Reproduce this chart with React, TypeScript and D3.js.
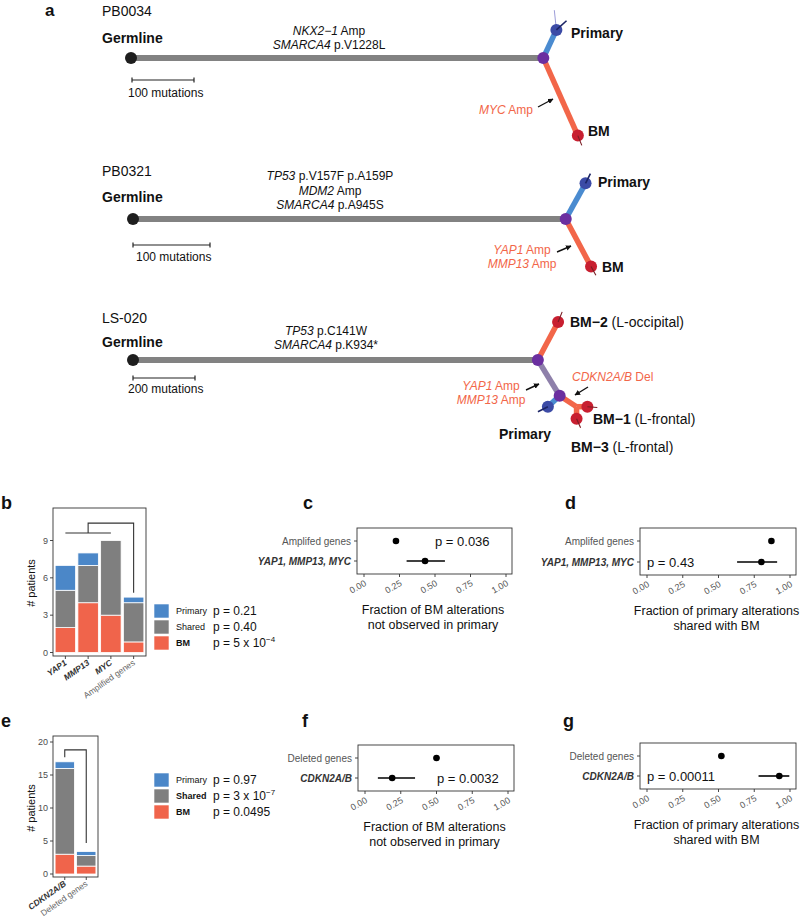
import React from "react";
import * as d3 from "d3";

const FONT = "'Liberation Sans', Arial, Helvetica, sans-serif";

// ---------------- Panel a data ----------------
type Br = { id: string; parent: string; len: number; angle: number; kind: string };

const treeIds = ["PB0034", "PB0321", "LS-020"];
const scaleBarMuts = [100, 100, 200];

const pb0034Branches: Br[] = [
  { id: "mrca", parent: "germline", len: 665, angle: 0, kind: "trunk" },
  { id: "primary", parent: "mrca", len: 50, angle: -65, kind: "primary" },
  { id: "bm", parent: "mrca", len: 137, angle: 66, kind: "bm" },
  { id: "pFaint", parent: "primary", len: 32, angle: -96, kind: "faint" },
  { id: "pTip", parent: "primary", len: 22, angle: -42, kind: "tipP" },
  { id: "bTip", parent: "bm", len: 17, angle: 68, kind: "tipB" },
];
const pb0321Branches: Br[] = [
  { id: "mrca", parent: "germline", len: 562, angle: 0, kind: "trunk" },
  { id: "primary", parent: "mrca", len: 53, angle: -61, kind: "primary" },
  { id: "bm", parent: "mrca", len: 70, angle: 62, kind: "bm" },
  { id: "pTip", parent: "primary", len: 14, angle: -63, kind: "tipP" },
  { id: "bTip", parent: "bm", len: 13, angle: 61, kind: "tipB" },
];
const ls020Branches: Br[] = [
  { id: "mrca", parent: "germline", len: 1306, angle: 0, kind: "trunk" },
  { id: "bm2", parent: "mrca", len: 139, angle: -62, kind: "bm" },
  { id: "mrca2", parent: "mrca", len: 135, angle: 58.6, kind: "shared" },
  { id: "primary", parent: "mrca2", len: 52, angle: 137, kind: "primary" },
  { id: "bend", parent: "mrca2", len: 65, angle: 33, kind: "bend" },
  { id: "bm1", parent: "bend", len: 35, angle: 0, kind: "bm" },
  { id: "bm3", parent: "bend", len: 39, angle: 90, kind: "bm" },
  { id: "bm2Tip", parent: "bm2", len: 35, angle: -68, kind: "tipB" },
  { id: "bm1Tip", parent: "bm1", len: 32, angle: 5, kind: "tipB" },
  { id: "bm3Tip", parent: "bm3", len: 32, angle: 66, kind: "tipB" },
  { id: "pTip", parent: "primary", len: 36, angle: 153, kind: "tipP" },
];
const treeBranches = [pb0034Branches, pb0321Branches, ls020Branches];

const pb0034Drivers = [["NKX2−1", " Amp"], ["SMARCA4", " p.V1228L"]];
const pb0321Drivers = [["TP53", " p.V157F p.A159P"], ["MDM2", " Amp"], ["SMARCA4", " p.A945S"]];
const ls020Drivers = [["TP53", " p.C141W"], ["SMARCA4", " p.K934*"]];
const treeDrivers = [pb0034Drivers, pb0321Drivers, ls020Drivers];

const pb0034Samples = [["Primary", ""], ["BM", ""]];
const pb0321Samples = [["Primary", ""], ["BM", ""]];
const ls020Samples = [["BM−2", " (L-occipital)"], ["BM−1", " (L-frontal)"], ["BM−3", " (L-frontal)"], ["Primary", ""]];
const treeSamples = [pb0034Samples, pb0321Samples, ls020Samples];

const pb0034Annots = [[["MYC", " Amp"]]];
const pb0321Annots = [[["YAP1", " Amp"], ["MMP13", " Amp"]]];
const ls020Annots = [[["YAP1", " Amp"], ["MMP13", " Amp"]], [["CDKN2A/B", " Del"]]];
const treeAnnots = [pb0034Annots, pb0321Annots, ls020Annots];

// ---------------- Panels b / e data ----------------
const ampCats = ["YAP1", "MMP13", "MYC", "Amplified genes"];
const ampBM = [2, 4, 3, 0.85];
const ampShared = [3, 3, 6, 3.15];
const ampPrimary = [2, 1, 0, 0.45];
const ampYTicks = [0, 3, 6, 9];
const ampPvals = ["p = 0.21", "p = 0.40", "p = 5 x 10|−4"];
const ampBoldLegend = [false, false, true];

const delCats = ["CDKN2A/B", "Deleted genes"];
const delBM = [3, 1.2];
const delShared = [13, 1.6];
const delPrimary = [1, 0.6];
const delYTicks = [0, 5, 10, 15, 20];
const delPvals = ["p = 0.97", "p = 3 x 10|−7", "p = 0.0495"];
const delBoldLegend = [false, true, true];

const legendNames = ["Primary", "Shared", "BM"];

// ---------------- Panels c, d, f, g data ----------------
const ampRows = ["Amplifed genes", "YAP1, MMP13, MYC"];
const cEst = [0.225, 0.43];
const cLo = [0.215, 0.3];
const cHi = [0.235, 0.57];
const dEst = [0.87, 0.8];
const dLo = [0.86, 0.63];
const dHi = [0.88, 0.91];
const delRows = ["Deleted genes", "CDKN2A/B"];
const fEst = [0.5, 0.19];
const fLo = [0.48, 0.09];
const fHi = [0.52, 0.35];
const gEst = [0.52, 0.925];
const gLo = [0.5, 0.78];
const gHi = [0.54, 0.995];
const fracTicks = [0, 0.25, 0.5, 0.75, 1];

// ---------------- colours ----------------
const C = {
  trunk: "#828282",
  primaryBr: "#4a8bd0",
  bmBr: "#f26649",
  sharedBr: "#8e80aa",
  purple: "#6b2fa0",
  blueNode: "#3c4ba6",
  redNode: "#c81f30",
  germ: "#1e1e1e",
  barPrimary: "#4b87c8",
  barShared: "#7f7f7f",
  barBM: "#f0644b",
  annot: "#f26649",
};

// ---------------- Tree component ----------------
const treeLayout = [
  {
    origin: [131, 58], barPx: 62, title: [102, 16], germ: [102, 43],
    drv: { x: 329, y: 34.5, dy: 14 }, bar: [132, 80], barText: [128, 97],
    samples: [[571, 38], [588, 136]],
    annots: [{ x: 533, y: 114, anchor: "end" }],
    arrows: [[538, 107, 553, 99]],
  },
  {
    origin: [133, 219], barPx: 77, title: [102, 176], germ: [102, 202],
    drv: { x: 330, y: 180, dy: 14.5 }, bar: [133, 245], barText: [136, 261],
    samples: [[598, 187], [602, 272]],
    annots: [{ x: 522, y: 254, anchor: "middle" }],
    arrows: [[557, 252, 571, 246]],
  },
  {
    origin: [133, 360], barPx: 62, title: [102, 323], germ: [102, 347],
    drv: { x: 326, y: 335, dy: 14 }, bar: [133, 378], barText: [128, 393],
    samples: [[570, 327], [593, 424], [571, 452], [499, 439]],
    annots: [{ x: 491, y: 390, anchor: "middle" }, { x: 572, y: 381, anchor: "start" }],
    arrows: [[526, 390, 539, 384], [588, 387, 575, 395]],
  },
];

function Tree({ idx }: { idx: number }) {
  const L = treeLayout[idx];
  const branches = treeBranches[idx];
  const k = d3.scaleLinear().domain([0, scaleBarMuts[idx]]).range([0, L.barPx]);
  const pos: Record<string, [number, number]> = { germline: [L.origin[0], L.origin[1]] };
  branches.forEach((b) => {
    const p = pos[b.parent];
    const a = (b.angle * Math.PI) / 180;
    pos[b.id] = [p[0] + k(b.len) * Math.cos(a), p[1] + k(b.len) * Math.sin(a)];
  });
  const brStyle = (kind: string) => {
    switch (kind) {
      case "trunk": return { stroke: C.trunk, w: 6 };
      case "primary": return { stroke: C.primaryBr, w: 5.5 };
      case "bm": case "bend": return { stroke: C.bmBr, w: 5.5 };
      case "shared": return { stroke: C.sharedBr, w: 5.5 };
      case "faint": return { stroke: "#9c9cd8", w: 1 };
      case "tipP": return { stroke: "#1c2566", w: 1.6 };
      case "tipB": return { stroke: "#7a1d24", w: 1.1 };
    }
    return { stroke: "#000", w: 1 };
  };
  const isTip = (kind: string) => kind === "tipP" || kind === "tipB";
  const nodeFill = (kind: string) =>
    kind === "trunk" || kind === "shared" ? C.purple : kind === "primary" ? C.blueNode : kind === "bm" ? C.redNode : null;
  const drawBranch = (b: Br) => {
    const s = brStyle(b.kind);
    const p = pos[b.parent], q = pos[b.id];
    return <line key={b.id} x1={p[0]} y1={p[1]} x2={q[0]} y2={q[1]} stroke={s.stroke} strokeWidth={s.w} />;
  };
  const samples = treeSamples[idx];
  const annots = treeAnnots[idx];
  return (
    <g fontFamily={FONT}>
      <text x={L.title[0]} y={L.title[1]} fontSize={14} fill="#111">{treeIds[idx]}</text>
      <text x={L.germ[0]} y={L.germ[1]} fontSize={14} fontWeight="bold" fill="#111">Germline</text>
      {treeDrivers[idx].map((d, i) => (
        <text key={i} x={L.drv.x} y={L.drv.y + i * L.drv.dy} fontSize={12} textAnchor="middle" fill="#111">
          <tspan fontStyle="italic">{d[0]}</tspan>{d[1]}
        </text>
      ))}
      <g stroke="#222" strokeWidth={1.2}>
        <line x1={L.bar[0]} x2={L.bar[0] + L.barPx} y1={L.bar[1]} y2={L.bar[1]} />
        <line x1={L.bar[0]} x2={L.bar[0]} y1={L.bar[1] - 2.5} y2={L.bar[1] + 2.5} />
        <line x1={L.bar[0] + L.barPx} x2={L.bar[0] + L.barPx} y1={L.bar[1] - 2.5} y2={L.bar[1] + 2.5} />
      </g>
      <text x={L.barText[0]} y={L.barText[1]} fontSize={12} fill="#111">{scaleBarMuts[idx]} mutations</text>
      {branches.filter((b) => !isTip(b.kind)).map(drawBranch)}
      <circle cx={pos.germline[0]} cy={pos.germline[1]} r={6} fill={C.germ} />
      {branches.map((b) => {
        const f = nodeFill(b.kind);
        return f ? <circle key={"n" + b.id} cx={pos[b.id][0]} cy={pos[b.id][1]} r={6} fill={f} /> : null;
      })}
      {branches.filter((b) => isTip(b.kind)).map(drawBranch)}
      {samples.map((s, i) => (
        <text key={"s" + i} x={L.samples[i][0]} y={L.samples[i][1]} fontSize={14} fill="#111">
          <tspan fontWeight="bold">{s[0]}</tspan>{s[1]}
        </text>
      ))}
      {annots.map((lines, i) => (
        <g key={"a" + i}>
          {lines.map((ln, j) => (
            <text key={j} x={L.annots[i].x} y={L.annots[i].y + j * 13.5} fontSize={12} fill={C.annot}
              textAnchor={L.annots[i].anchor as any}>
              <tspan fontStyle="italic">{ln[0]}</tspan>{ln[1]}
            </text>
          ))}
        </g>
      ))}
      {L.arrows.map((a, i) => (
        <line key={"ar" + i} x1={a[0]} y1={a[1]} x2={a[2]} y2={a[3]} stroke="#111" strokeWidth={1.4} markerEnd="url(#arrowHead)" />
      ))}
    </g>
  );
}

// ---------------- Stacked bar component ----------------
type BarProps = {
  cats: string[]; bm: number[]; shared: number[]; primary: number[];
  frame: { l: number; r: number; t: number; b: number };
  yDomain: [number, number]; yRange: [number, number]; ticks: number[];
  bracket: [number, number][]; bracketSplit?: [number, number][];
  legendTop: number; pvals: string[]; bold: boolean[]; ylabelY: number;
};

function StackedBars(p: BarProps) {
  const x = d3.scaleBand<string>().domain(p.cats).range([p.frame.l + 1, p.frame.r - 1]).paddingInner(0.1).paddingOuter(0.05);
  const y = d3.scaleLinear().domain(p.yDomain).range(p.yRange);
  const rows = p.cats.map((c, i) => ({ cat: c, BM: p.bm[i], Shared: p.shared[i], Primary: p.primary[i] }));
  const series = d3.stack<any>().keys(["BM", "Shared", "Primary"])(rows);
  const colors: Record<string, string> = { BM: C.barBM, Shared: C.barShared, Primary: C.barPrimary };
  const cx = (i: number) => (x(p.cats[i]) as number) + x.bandwidth() / 2;
  const line = d3.line<[number, number]>().x((d) => cx(d[0])).y((d) => y(d[1]));
  const legendColors = [C.barPrimary, C.barShared, C.barBM];
  return (
    <g fontFamily={FONT}>
      {series.map((s) => (
        <g key={s.key}>
          {s.map((d, i) =>
            d[1] - d[0] > 0 ? (
              <rect key={i} x={x(p.cats[i])} y={y(d[1])} width={x.bandwidth()} height={y(d[0]) - y(d[1])}
                fill={colors[s.key]} stroke="#fff" strokeWidth={0.8} />
            ) : null
          )}
        </g>
      ))}
      <rect x={p.frame.l} y={p.frame.t} width={p.frame.r - p.frame.l} height={p.frame.b - p.frame.t} fill="none" stroke="#333" strokeWidth={0.9} />
      <path d={line(p.bracket) as string} fill="none" stroke="#333" strokeWidth={1.1} />
      {p.bracketSplit ? <path d={line(p.bracketSplit) as string} fill="none" stroke="#333" strokeWidth={1.1} /> : null}
      {p.ticks.map((t) => (
        <g key={t}>
          <line x1={p.frame.l - 3} x2={p.frame.l} y1={y(t)} y2={y(t)} stroke="#333" strokeWidth={0.9} />
          <text x={p.frame.l - 5} y={y(t)} dy="0.35em" fontSize={9} fill="#4d4d4d" textAnchor="end">{t}</text>
        </g>
      ))}
      {p.cats.map((c, i) => (
        <g key={c}>
          <line x1={cx(i)} x2={cx(i)} y1={p.frame.b} y2={p.frame.b + 3} stroke="#333" strokeWidth={0.9} />
          <text transform={`translate(${cx(i) + 2},${p.frame.b + 8}) rotate(-35)`} fontSize={8.5}
            textAnchor="end" fill={i === p.cats.length - 1 ? "#666" : "#333"}
            fontWeight={i === p.cats.length - 1 ? "normal" : "bold"} fontStyle={i === p.cats.length - 1 ? "normal" : "italic"}>
            {c}
          </text>
        </g>
      ))}
      <text transform={`translate(35,${p.ylabelY}) rotate(-90)`} fontSize={11} textAnchor="middle" fill="#111"># patients</text>
      {legendNames.map((n, i) => {
        const top = p.legendTop + i * 16;
        const parts = p.pvals[i].split("|");
        return (
          <g key={n}>
            <rect x={154} y={top} width={15} height={14} fill={legendColors[i]} stroke="#fff" strokeWidth={0.6} />
            <text x={176} y={top + 7} dy="0.35em" fontSize={9} fill="#111" fontWeight={p.bold[i] ? "bold" : "normal"}>{n}</text>
            <text x={213} y={top + 7} dy="0.35em" fontSize={12} fill="#111">
              {parts[0]}
              {parts[1] ? <tspan dy="-5" fontSize={8}>{parts[1]}</tspan> : null}
            </text>
          </g>
        );
      })}
    </g>
  );
}

// ---------------- Forest component ----------------
type ForestProps = {
  x0: number; y0: number; w: number; h: number; rows: string[];
  est: number[]; lo: number[]; hi: number[];
  pText: string; pX: number; pRow: number; title: string[];
};
function Forest(p: ForestProps) {
  const x = d3.scaleLinear().domain([0, 1]).range([p.x0 + 7, p.x0 + p.w - 6]);
  const y = d3.scalePoint<number>().domain([0, 1]).range([p.y0 + 13, p.y0 + p.h - 13]);
  const bottom = p.y0 + p.h;
  return (
    <g fontFamily={FONT}>
      <rect x={p.x0} y={p.y0} width={p.w} height={p.h} fill="none" stroke="#333" strokeWidth={0.9} />
      {p.rows.map((r, i) => (
        <g key={r}>
          <line x1={p.x0 - 3} x2={p.x0} y1={y(i)} y2={y(i)} stroke="#333" strokeWidth={0.9} />
          <text x={p.x0 - 6} y={y(i)} dy="0.35em" textAnchor="end" fontSize={10}
            fill={i === 1 ? "#333" : "#555"} fontWeight={i === 1 ? "bold" : "normal"} fontStyle={i === 1 ? "italic" : "normal"}>{r}</text>
          <line x1={x(p.lo[i])} x2={x(p.hi[i])} y1={y(i)} y2={y(i)} stroke="#000" strokeWidth={1.6} />
          <circle cx={x(p.est[i])} cy={y(i)} r={3.3} fill="#000" />
        </g>
      ))}
      {fracTicks.map((t) => (
        <g key={t}>
          <line x1={x(t)} x2={x(t)} y1={bottom} y2={bottom + 3} stroke="#333" strokeWidth={0.9} />
          <text transform={`translate(${x(t) + 3},${bottom + 11}) rotate(-30)`} fontSize={9} textAnchor="end" fill="#555">
            {d3.format(".2f")(t)}
          </text>
        </g>
      ))}
      <text x={p.pX} y={y(p.pRow)} dy="0.35em" fontSize={13} fill="#111">{p.pText}</text>
      {p.title.map((t, i) => (
        <text key={i} x={(x(0) + x(1)) / 2 - 2} y={bottom + 40 + i * 15} fontSize={12.5} textAnchor="middle" fill="#111">{t}</text>
      ))}
    </g>
  );
}

export default function App() {
  return (
    <svg width={800} height={918} style={{ position: "absolute", left: 0, top: 0, background: "#fff" }}>
      <defs>
        <marker id="arrowHead" viewBox="0 0 10 10" refX="9" refY="5" markerWidth="4" markerHeight="4" orient="auto">
          <path d="M0,0 L10,5 L0,10 z" fill="#111" />
        </marker>
      </defs>
      <rect width={800} height={918} fill="#fff" />
      <g fontFamily={FONT} fontWeight="bold" fill="#111">
        <text x={45} y={16} fontSize={17}>a</text>
        <text x={1} y={509} fontSize={18}>b</text>
        <text x={303} y={509} fontSize={18}>c</text>
        <text x={565} y={509} fontSize={18}>d</text>
        <text x={1} y={727} fontSize={18}>e</text>
        <text x={302} y={727} fontSize={18}>f</text>
        <text x={563} y={727} fontSize={18}>g</text>
      </g>
      <Tree idx={0} />
      <Tree idx={1} />
      <Tree idx={2} />
      <StackedBars cats={ampCats} bm={ampBM} shared={ampShared} primary={ampPrimary}
        frame={{ l: 53, r: 146, t: 508, b: 656 }} yDomain={[0, 9]} yRange={[652.5, 540.5]} ticks={ampYTicks}
        bracket={[[0, 9.6], [2, 9.6]]} bracketSplit={[[1, 9.6], [1, 10.4], [3, 10.4], [3, 4.8]]}
        legendTop={604} pvals={ampPvals} bold={ampBoldLegend} ylabelY={583} />
      <StackedBars cats={delCats} bm={delBM} shared={delShared} primary={delPrimary}
        frame={{ l: 53, r: 98, t: 736, b: 877 }} yDomain={[0, 20]} yRange={[874, 742]} ticks={delYTicks}
        bracket={[[0, 17.7], [0, 18.8], [1, 18.8], [1, 4.7]]}
        legendTop={773} pvals={delPvals} bold={delBoldLegend} ylabelY={808} />
      <Forest x0={357} y0={528} w={155} h={46} rows={ampRows} est={cEst} lo={cLo} hi={cHi}
        pText="p = 0.036" pX={435} pRow={0} title={["Fraction of BM alterations", "not observed in primary"]} />
      <Forest x0={640} y0={528} w={156} h={47} rows={ampRows} est={dEst} lo={dLo} hi={dHi}
        pText="p = 0.43" pX={647} pRow={1} title={["Fraction of primary alterations", "shared with BM"]} />
      <Forest x0={358} y0={745} w={156} h={46} rows={delRows} est={fEst} lo={fLo} hi={fHi}
        pText="p = 0.0032" pX={437} pRow={1} title={["Fraction of BM alterations", "not observed in primary"]} />
      <Forest x0={640} y0={743} w={156} h={46} rows={delRows} est={gEst} lo={gLo} hi={gHi}
        pText="p = 0.00011" pX={647} pRow={1} title={["Fraction of primary alterations", "shared with BM"]} />
    </svg>
  );
}
